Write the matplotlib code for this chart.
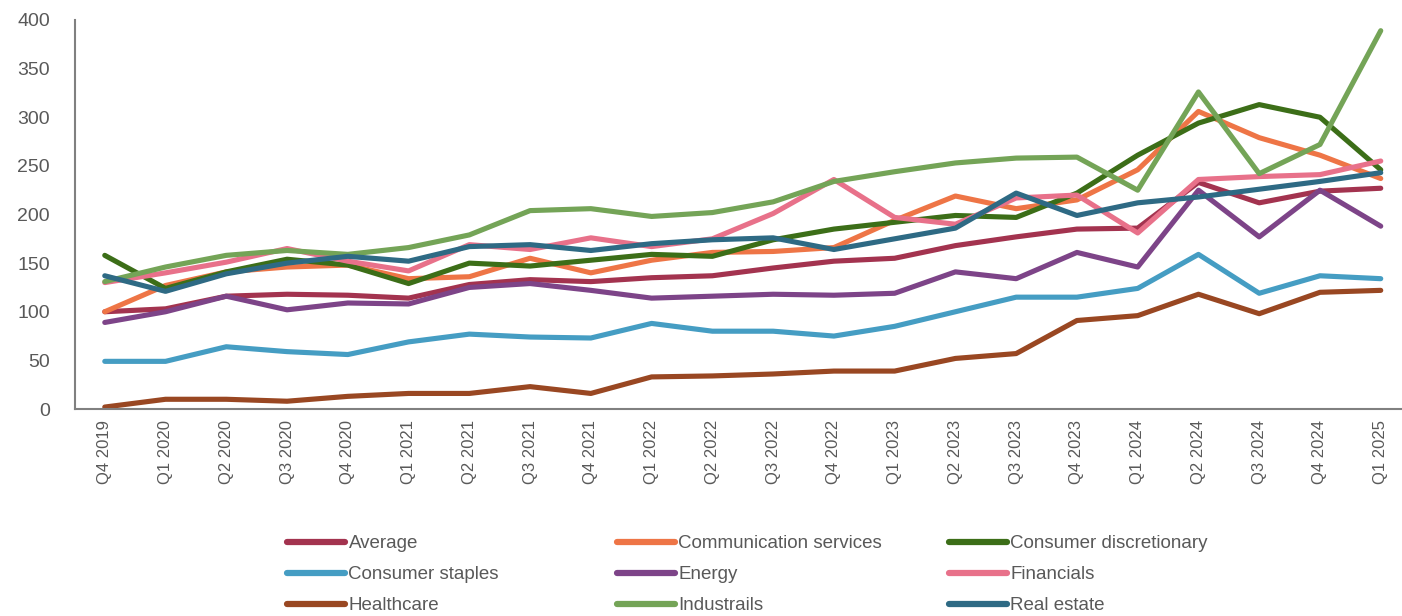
import matplotlib
matplotlib.use("Agg")
import matplotlib.pyplot as plt

quarters = [
    "Q4 2019", "Q1 2020", "Q2 2020", "Q3 2020", "Q4 2020", "Q1 2021",
    "Q2 2021", "Q3 2021", "Q4 2021", "Q1 2022", "Q2 2022", "Q3 2022",
    "Q4 2022", "Q1 2023", "Q2 2023", "Q3 2023", "Q4 2023", "Q1 2024",
    "Q2 2024", "Q3 2024", "Q4 2024", "Q1 2025",
]

average = [100, 103, 116, 118, 117, 114, 128, 133, 131, 135, 137, 145,
           152, 155, 168, 177, 185, 186, 233, 212, 224, 227]
communication = [100, 127, 141, 146, 148, 134, 136, 155, 140, 153, 161, 162,
                 166, 194, 219, 206, 215, 246, 306, 279, 261, 237]
discretionary = [158, 124, 141, 154, 148, 129, 150, 147, 153, 159, 157, 174,
                 185, 192, 199, 197, 222, 261, 294, 313, 300, 246]
staples = [49, 49, 64, 59, 56, 69, 77, 74, 73, 88, 80, 80,
           75, 85, 100, 115, 115, 124, 159, 119, 137, 134]
energy = [89, 100, 116, 102, 109, 108, 125, 129, 122, 114, 116, 118,
          117, 119, 141, 134, 161, 146, 225, 177, 225, 188]
financials = [130, 140, 151, 165, 152, 142, 169, 164, 176, 167, 175, 201,
              236, 197, 190, 217, 220, 181, 236, 239, 241, 255]
healthcare = [2, 10, 10, 8, 13, 16, 16, 23, 16, 33, 34, 36,
              39, 39, 52, 57, 91, 96, 118, 98, 120, 122]
industrials = [131, 146, 158, 163, 159, 166, 179, 204, 206, 198, 202, 213,
               234, 244, 253, 258, 259, 225, 326, 242, 272, 389]
real_estate = [137, 121, 139, 150, 157, 152, 167, 169, 163, 170, 174, 176,
               164, 175, 186, 222, 199, 212, 218, 226, 234, 243]

series = [
    ("Average", average, "#A3334F"),
    ("Communication services", communication, "#EE7546"),
    ("Consumer discretionary", discretionary, "#3C6E18"),
    ("Consumer staples", staples, "#459DC3"),
    ("Energy", energy, "#7D4488"),
    ("Financials", financials, "#E8718A"),
    ("Healthcare", healthcare, "#994722"),
    ("Industrails", industrials, "#74A457"),
    ("Real estate", real_estate, "#2E6A84"),
]

TEXT_GREY = "#595959"
AXIS_GREY = "#808080"
FONT = "Liberation Sans"

fig = plt.figure(figsize=(14.02, 6.16), dpi=100)
ax = fig.add_axes([75 / 1402, 1 - 409 / 616, 1 - 75 / 1402, (409 - 20) / 616])

x = list(range(len(quarters)))
handles = []
for name, values, color in series:
    (line,) = ax.plot(x, values, color=color, lw=3.7, label=name,
                      solid_capstyle="round", solid_joinstyle="round")
    handles.append(line)

ax.set_xlim(-0.49, 21.35)
ax.set_ylim(0, 400)
ax.set_yticks(range(0, 401, 50))
ax.set_xticks(x)
ax.set_xticklabels(quarters, rotation=90, fontsize=12, color=TEXT_GREY,
                   family=FONT)
for lab in ax.get_yticklabels():
    lab.set_fontsize(14)
    lab.set_color(TEXT_GREY)
    lab.set_family(FONT)
ax.tick_params(axis="y", length=0, pad=18)
ax.tick_params(axis="x", length=0, pad=8)

for side in ("top", "right"):
    ax.spines[side].set_visible(False)
for side in ("left", "bottom"):
    ax.spines[side].set_color(AXIS_GREY)
    ax.spines[side].set_linewidth(1.5)

# three legend columns, each placed on its own
col_x = [287, 617, 949]
for c in range(3):
    hs = handles[c::3]
    leg = fig.legend(
        hs, [h.get_label() for h in hs],
        loc="upper left", bbox_to_anchor=(col_x[c] / 1402, 1 - 535 / 616),
        frameon=False, ncol=1, handlelength=3.1,
        handletextpad=0.18, labelspacing=0.74, borderpad=0, borderaxespad=0,
        prop={"family": FONT, "size": 13.5},
    )
    for t in leg.get_texts():
        t.set_color(TEXT_GREY)
    for lh in leg.get_lines():
        lh.set_linewidth(4.5)

fig.savefig("out.png", dpi=100)
